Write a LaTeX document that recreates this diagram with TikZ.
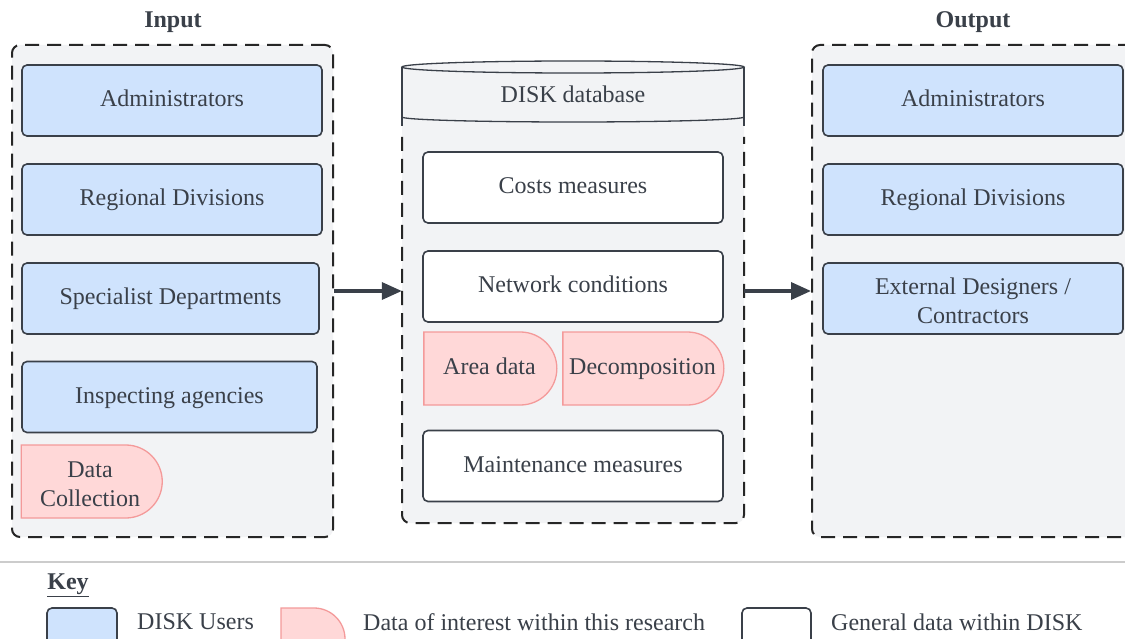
\documentclass[tikz,border=0pt]{standalone}
\usepackage{fontspec}
\setmainfont{Liberation Serif}
\usetikzlibrary{arrows.meta,shapes.misc}
\definecolor{txt}{HTML}{3A4049}
\definecolor{edge}{HTML}{3A4049}
\definecolor{userblue}{HTML}{CFE3FD}
\definecolor{pinkfill}{HTML}{FFD8D8}
\definecolor{pinkedge}{HTML}{F49A9A}
\definecolor{contfill}{HTML}{F2F3F5}
\definecolor{sepgray}{HTML}{CCCCCC}
\newcommand{\firstline}{\rule{0pt}{22pt}}
\tikzset{
  base/.style={text=txt, font=\fontsize{24}{29}\selectfont, align=center, inner sep=0pt},
  oneline/.style={text height=17pt, text depth=5pt},
  userbox/.style={base, draw=edge, fill=userblue, line width=1.6pt, rounded corners=5pt, minimum height=71pt},
  genbox/.style={base, draw=edge, fill=white, line width=1.6pt, rounded corners=5pt, minimum height=71pt},
  interest/.style={base, shape=rounded rectangle, rounded rectangle left arc=none, draw=pinkedge, fill=pinkfill, line width=1.3pt, minimum height=73pt},
  container/.style={draw=black!85, dash pattern=on 14pt off 8pt, line width=2pt, fill=contfill, rounded corners=8pt, inner sep=0pt},
  title/.style={text=txt, font=\fontsize{24}{29}\selectfont\bfseries, inner sep=0pt},
  flow/.style={draw=edge, line width=3.5pt, -{Triangle[length=20pt,width=17pt]}},
  keytext/.style={text=txt, font=\fontsize{24}{29}\selectfont, inner sep=0pt, anchor=west},
}
\begin{document}
\begin{tikzpicture}[x=1pt,y=-1pt]
\useasboundingbox (0,0) rectangle (1125,639);
\clip (0,0) rectangle (1125,639);
\fill[white] (0,0) rectangle (1125,639);

% titles
\node[title] (tin) at (173,22.5) {Input};
\node[title] (tout) at (973,22.5) {Output};

% input container
\node[container, minimum width=321pt, minimum height=492pt] (inbox) at (172.5,291) {};
\node[userbox, oneline, minimum width=300pt] (in1) at (172,100.5) {Administrators};
\node[userbox, oneline, minimum width=300pt] (in2) at (172,199.5) {Regional Divisions};
\node[userbox, oneline, minimum width=297pt] (in3) at (170.5,298.5) {Specialist Departments};
\node[userbox, oneline, minimum width=295pt] (in4) at (169.5,397) {Inspecting agencies};
\node[interest, minimum width=141pt] (in5) at (86.5,481.5) {\firstline\hspace*{7pt}Data\\\hspace*{7pt}Collection};

% database
\fill[contfill] (402,67) [rounded corners=8pt]-- (402,523) -- (744,523) [sharp corners]-- (744,67) -- cycle;
\draw[edge, line width=1.3pt] (402,67) -- (402,126) (744,67) -- (744,126);
\draw[black!85, dash pattern=on 14pt off 8pt, line width=2pt] (402,137) [rounded corners=8pt]-- (402,523) -- (744,523) -- (744,137);
\draw[edge, line width=1.3pt, fill=contfill] (573,67) ellipse [x radius=171pt, y radius=6pt];
\draw[edge, line width=1.3pt] (402,117) arc[start angle=180, end angle=360, x radius=171pt, y radius=5pt];
\node[base, oneline] (dbtitle) at (573,97) {DISK database};
\node[inner sep=0pt, minimum width=342pt, minimum height=456pt] (db) at (573,295) {};

\node[genbox, oneline, minimum width=300pt] (db1) at (573,187.5) {Costs measures};
\node[genbox, oneline, minimum width=300pt] (db2) at (573,286.5) {Network conditions};
\node[interest, oneline, minimum width=133pt] (db3) at (489.5,368.5) {Area data};
\node[interest, oneline, minimum width=161pt] (db4) at (642.5,368.5) {Decomposition};
\node[genbox, oneline, minimum width=300pt] (db5) at (573,466) {Maintenance measures};

% output container
\node[container, minimum width=328pt, minimum height=492pt] (outbox) at (976,291) {};
\node[userbox, oneline, minimum width=300pt] (out1) at (973,100.5) {Administrators};
\node[userbox, oneline, minimum width=300pt] (out2) at (973,199.5) {Regional Divisions};
\node[userbox, minimum width=300pt] (out3) at (973,298.5) {\firstline External Designers /\\Contractors};

% arrows
\draw[flow] (inbox.east) -- (inbox.east -| db.west);
\draw[flow] (inbox.east -| db.east) -- (outbox.west);

% separator and key
\coordinate (sepL) at (0,562);
\coordinate (sepR) at (1125,562);
\draw[sepgray, line width=1.5pt] (sepL) -- (sepR);
\node[title] (key) at (68,585) {\underline{Key}};
\node[userbox, minimum width=70pt, minimum height=62pt] (k1) at (82,639) {};
\node[keytext] (k1t) at (137,622) {DISK Users};
\node[interest, minimum width=64pt, minimum height=62pt] (k2) at (313,639) {};
\node[keytext] (k2t) at (363,622) {Data of interest within this research};
\node[genbox, minimum width=69pt, minimum height=62pt] (k3) at (776.5,639) {};
\node[keytext] (k3t) at (831,622) {General data within DISK};
\end{tikzpicture}
\end{document}
